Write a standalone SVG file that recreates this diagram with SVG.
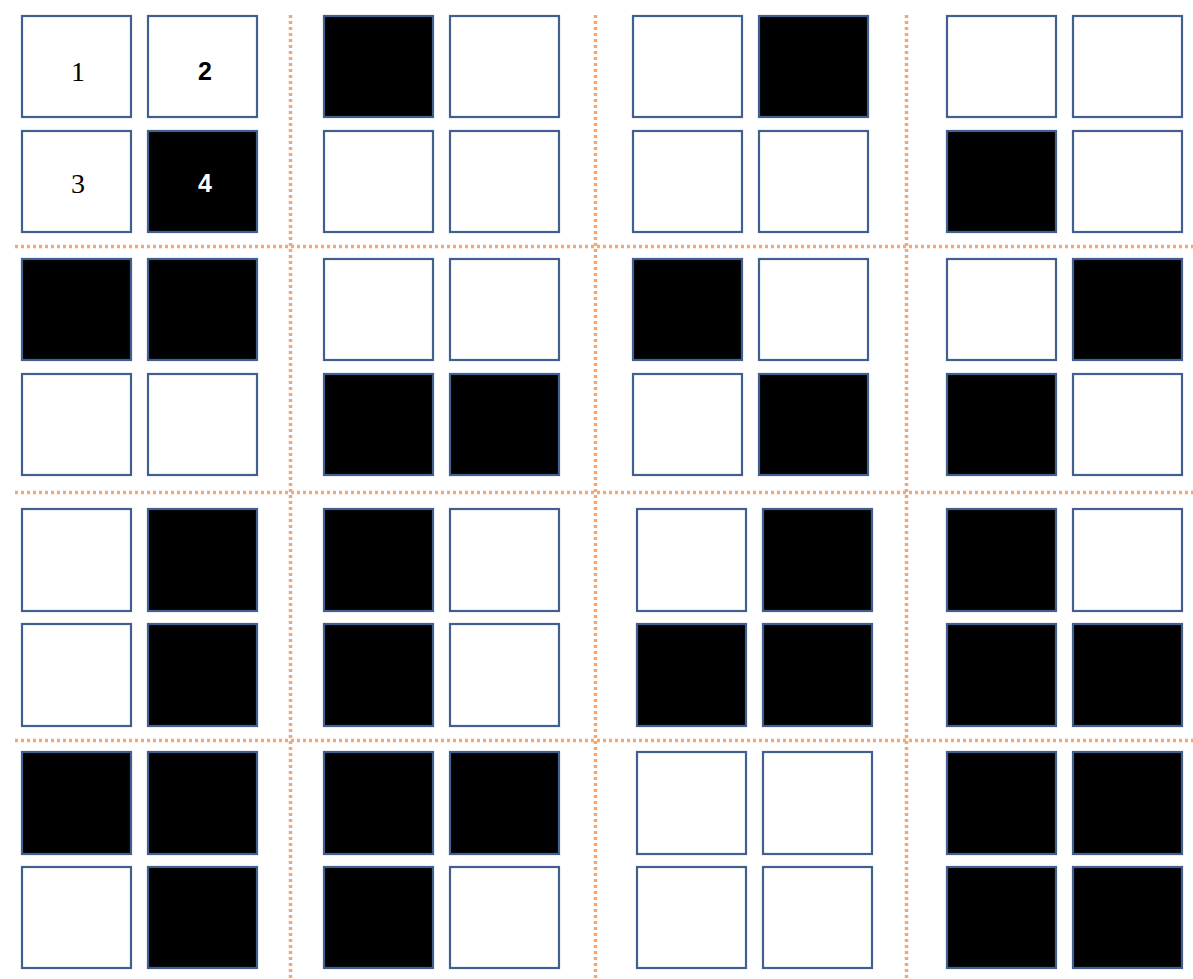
<svg xmlns="http://www.w3.org/2000/svg" width="1193" height="979" viewBox="0 0 1193 979">
<style>
.c{stroke:#41608F;stroke-width:2.2}
.w{fill:#ffffff}
.b{fill:#000000}
.d{stroke:#F4A971;stroke-width:3.5;stroke-dasharray:3 3;fill:none}
.s{font-family:"Liberation Serif",serif;font-size:28px;text-anchor:middle}
.a{font-family:"Liberation Sans",Arial,sans-serif;font-size:25px;text-anchor:middle;font-weight:bold}
</style>
<rect width="1193" height="979" fill="#ffffff"/>
<g id="guides">
<line class="d" x1="15" y1="246.5" x2="1193" y2="246.5"/>
<line class="d" x1="15" y1="492.5" x2="1193" y2="492.5"/>
<line class="d" x1="15" y1="740.5" x2="1193" y2="740.5"/>
<line class="d" x1="290.5" y1="15" x2="290.5" y2="979"/>
<line class="d" x1="595.5" y1="15" x2="595.5" y2="979"/>
<line class="d" x1="906.5" y1="15" x2="906.5" y2="979"/>
</g>
<g id="block-0-0">
<rect class="c w" x="22" y="16" width="109" height="101"/>
<rect class="c w" x="148" y="16" width="109" height="101"/>
<rect class="c w" x="22" y="131" width="109" height="101"/>
<rect class="c b" x="148" y="131" width="109" height="101"/>
<text class="s" x="78" y="81">1</text>
<text class="a" x="205" y="80" fill="#000">2</text>
<text class="s" x="78" y="193">3</text>
<text class="a" x="205" y="192" fill="#fff">4</text>
</g>
<g id="block-0-1">
<rect class="c b" x="324" y="16" width="109" height="101"/>
<rect class="c w" x="450" y="16" width="109" height="101"/>
<rect class="c w" x="324" y="131" width="109" height="101"/>
<rect class="c w" x="450" y="131" width="109" height="101"/>
</g>
<g id="block-0-2">
<rect class="c w" x="633" y="16" width="109" height="101"/>
<rect class="c b" x="759" y="16" width="109" height="101"/>
<rect class="c w" x="633" y="131" width="109" height="101"/>
<rect class="c w" x="759" y="131" width="109" height="101"/>
</g>
<g id="block-0-3">
<rect class="c w" x="947" y="16" width="109" height="101"/>
<rect class="c w" x="1073" y="16" width="109" height="101"/>
<rect class="c b" x="947" y="131" width="109" height="101"/>
<rect class="c w" x="1073" y="131" width="109" height="101"/>
</g>
<g id="block-1-0">
<rect class="c b" x="22" y="259" width="109" height="101"/>
<rect class="c b" x="148" y="259" width="109" height="101"/>
<rect class="c w" x="22" y="374" width="109" height="101"/>
<rect class="c w" x="148" y="374" width="109" height="101"/>
</g>
<g id="block-1-1">
<rect class="c w" x="324" y="259" width="109" height="101"/>
<rect class="c w" x="450" y="259" width="109" height="101"/>
<rect class="c b" x="324" y="374" width="109" height="101"/>
<rect class="c b" x="450" y="374" width="109" height="101"/>
</g>
<g id="block-1-2">
<rect class="c b" x="633" y="259" width="109" height="101"/>
<rect class="c w" x="759" y="259" width="109" height="101"/>
<rect class="c w" x="633" y="374" width="109" height="101"/>
<rect class="c b" x="759" y="374" width="109" height="101"/>
</g>
<g id="block-1-3">
<rect class="c w" x="947" y="259" width="109" height="101"/>
<rect class="c b" x="1073" y="259" width="109" height="101"/>
<rect class="c b" x="947" y="374" width="109" height="101"/>
<rect class="c w" x="1073" y="374" width="109" height="101"/>
</g>
<g id="block-2-0">
<rect class="c w" x="22" y="509" width="109" height="102"/>
<rect class="c b" x="148" y="509" width="109" height="102"/>
<rect class="c w" x="22" y="624" width="109" height="102"/>
<rect class="c b" x="148" y="624" width="109" height="102"/>
</g>
<g id="block-2-1">
<rect class="c b" x="324" y="509" width="109" height="102"/>
<rect class="c w" x="450" y="509" width="109" height="102"/>
<rect class="c b" x="324" y="624" width="109" height="102"/>
<rect class="c w" x="450" y="624" width="109" height="102"/>
</g>
<g id="block-2-2">
<rect class="c w" x="637" y="509" width="109" height="102"/>
<rect class="c b" x="763" y="509" width="109" height="102"/>
<rect class="c b" x="637" y="624" width="109" height="102"/>
<rect class="c b" x="763" y="624" width="109" height="102"/>
</g>
<g id="block-2-3">
<rect class="c b" x="947" y="509" width="109" height="102"/>
<rect class="c w" x="1073" y="509" width="109" height="102"/>
<rect class="c b" x="947" y="624" width="109" height="102"/>
<rect class="c b" x="1073" y="624" width="109" height="102"/>
</g>
<g id="block-3-0">
<rect class="c b" x="22" y="752" width="109" height="102"/>
<rect class="c b" x="148" y="752" width="109" height="102"/>
<rect class="c w" x="22" y="867" width="109" height="101"/>
<rect class="c b" x="148" y="867" width="109" height="101"/>
</g>
<g id="block-3-1">
<rect class="c b" x="324" y="752" width="109" height="102"/>
<rect class="c b" x="450" y="752" width="109" height="102"/>
<rect class="c b" x="324" y="867" width="109" height="101"/>
<rect class="c w" x="450" y="867" width="109" height="101"/>
</g>
<g id="block-3-2">
<rect class="c w" x="637" y="752" width="109" height="102"/>
<rect class="c w" x="763" y="752" width="109" height="102"/>
<rect class="c w" x="637" y="867" width="109" height="101"/>
<rect class="c w" x="763" y="867" width="109" height="101"/>
</g>
<g id="block-3-3">
<rect class="c b" x="947" y="752" width="109" height="102"/>
<rect class="c b" x="1073" y="752" width="109" height="102"/>
<rect class="c b" x="947" y="867" width="109" height="101"/>
<rect class="c b" x="1073" y="867" width="109" height="101"/>
</g>
</svg>
